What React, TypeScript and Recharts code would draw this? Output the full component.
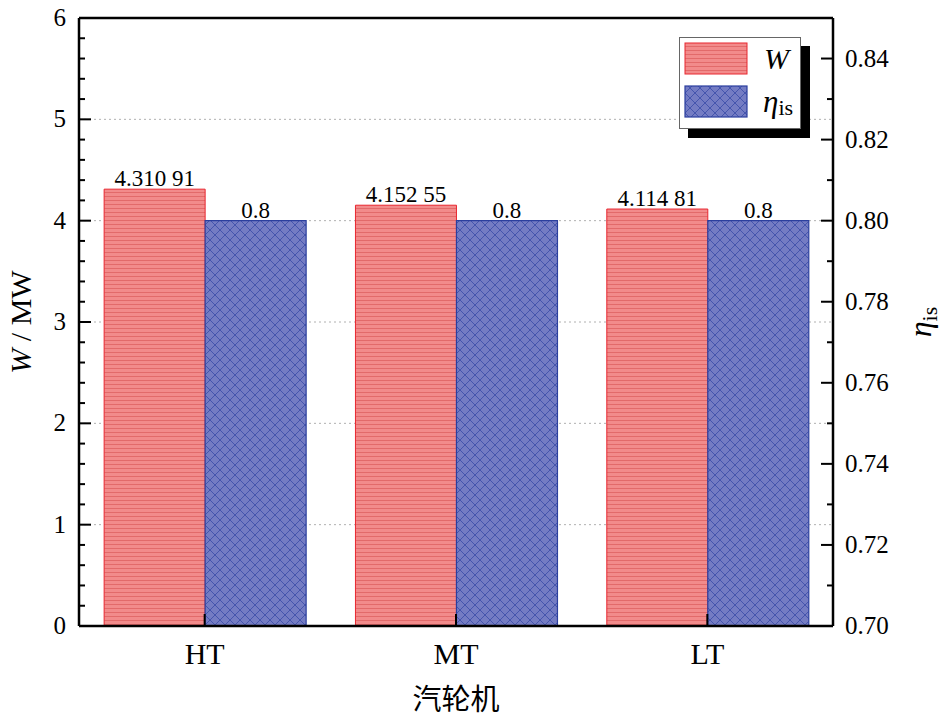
import {
  BarChart,
  Bar,
  XAxis,
  YAxis,
  CartesianGrid,
  ReferenceLine,
  LabelList,
  Label,
} from "recharts";

const categories = ["HT", "MT", "LT"];
const powerMW = [4.31091, 4.15255, 4.11481];
const efficiency = [0.8, 0.8, 0.8];

const leftMajorTicks = [0, 1, 2, 3, 4, 5, 6];
const rightMajorTicks = [0.7, 0.72, 0.74, 0.76, 0.78, 0.8, 0.82, 0.84];
const gridValues = [1, 2, 3, 4, 5];

// minor ticks: 4 per major step on the left, 1 per step on the right
const leftTicks = Array.from({ length: 31 }, (_, i) => i / 5);
const rightTicks = Array.from({ length: 16 }, (_, i) => (70 + i) / 100);

const data = categories.map((name, i) => ({
  name,
  W: powerMW[i],
  eta: efficiency[i],
}));

const SERIF = "Liberation Serif";
const RED = "#e8262f";
const BLUE = "#2b3f9e";

const formatW = (v: unknown) => {
  const s = Number(v).toFixed(5);
  return s.slice(0, -2) + " " + s.slice(-2);
};

const isMajor = (v: number, list: number[]) =>
  list.some((m) => Math.abs(m - v) < 1e-6);

function LeftTick({ x, y, payload }: any) {
  const v = payload.value as number;
  const major = isMajor(v, leftMajorTicks);
  return (
    <g>
      <line x1={x} x2={x + (major ? 12 : 6)} y1={y} y2={y} stroke="#000" strokeWidth={2} />
      {major && (
        <text x={x - 13} y={y + 8} textAnchor="end" fontSize={25} fontFamily={SERIF} fill="#000">
          {v}
        </text>
      )}
    </g>
  );
}

function RightTick({ x, y, payload }: any) {
  const v = payload.value as number;
  const major = isMajor(v, rightMajorTicks);
  return (
    <g>
      <line x1={x} x2={x - (major ? 12 : 6)} y1={y} y2={y} stroke="#000" strokeWidth={2} />
      {major && (
        <text x={x + 12} y={y + 8} textAnchor="start" fontSize={25} fontFamily={SERIF} fill="#000">
          {v.toFixed(2)}
        </text>
      )}
    </g>
  );
}

function BottomTick({ x, y, payload }: any) {
  return (
    <g>
      <line x1={x} x2={x} y1={y} y2={y - 12} stroke="#000" strokeWidth={2} />
      <text x={x} y={y + 38} textAnchor="middle" fontSize={30} fontFamily={SERIF} fill="#000">
        {payload.value}
      </text>
    </g>
  );
}

const leftLabel = ({ viewBox }: any) => {
  const cx = viewBox.x + 31;
  const cy = viewBox.y + viewBox.height / 2;
  return (
    <text
      x={cx}
      y={cy}
      transform={`rotate(-90 ${cx} ${cy})`}
      textAnchor="middle"
      fontSize={30}
      fontFamily={SERIF}
      fill="#000"
    >
      <tspan fontStyle="italic">W</tspan>
      <tspan> / MW</tspan>
    </text>
  );
};

const rightLabel = ({ viewBox }: any) => {
  const cx = viewBox.x + 98;
  const cy = viewBox.y + viewBox.height / 2;
  return (
    <text
      x={cx}
      y={cy}
      transform={`rotate(-90 ${cx} ${cy})`}
      textAnchor="middle"
      fontSize={32}
      fontFamily={SERIF}
      fill="#000"
    >
      <tspan fontStyle="italic">η</tspan>
      <tspan fontSize={22} dy={6}>is</tspan>
    </text>
  );
};

const bottomLabel = ({ viewBox }: any) => (
  <text
    x={viewBox.x + viewBox.width / 2}
    y={viewBox.y + 84}
    textAnchor="middle"
    fontSize={29}
    fontFamily="Noto Sans CJK SC"
    fill="#000"
  >
    汽轮机
  </text>
);

function Patterns() {
  return (
    <svg width={0} height={0} style={{ position: "absolute" }}>
      <defs>
        <pattern id="redHatch" width={4} height={4} patternUnits="userSpaceOnUse">
          <rect width={4} height={4} fill="#f28b8b" />
          <line x1={0} x2={4} y1={0.5} y2={0.5} stroke="#e26a6a" strokeWidth={1} />
        </pattern>
        <pattern id="blueHatch" width={10} height={10} patternUnits="userSpaceOnUse">
          <rect width={10} height={10} fill="#747cc3" />
          <path d="M0,0 L10,10 M10,0 L0,10" stroke="#3f50aa" strokeWidth={0.9} />
        </pattern>
      </defs>
    </svg>
  );
}

function LegendBox() {
  return (
    <div
      style={{
        position: "absolute",
        left: 679,
        top: 37,
        width: 122,
        height: 92,
        boxSizing: "border-box",
        border: "1px solid #666",
        background: "#fff",
        boxShadow: "9px 9px 0 #000",
      }}
    >
      <svg width={120} height={90} style={{ position: "absolute", left: 0, top: 0 }}>
        <rect x={5} y={5} width={62} height={31} fill="url(#redHatch)" stroke={RED} strokeWidth={1} />
        <rect x={5} y={48} width={62} height={31} fill="url(#blueHatch)" stroke={BLUE} strokeWidth={1.2} />
        <text x={84} y={31} fontSize={30} fontStyle="italic" fill="#000" fontFamily={SERIF}>
          W
        </text>
        <text x={83} y={74} fontSize={31} fill="#000" fontFamily={SERIF}>
          <tspan fontStyle="italic">η</tspan>
          <tspan fontSize={22} dy={3}>is</tspan>
        </text>
      </svg>
    </div>
  );
}

export default function App() {
  return (
    <div style={{ position: "absolute", left: 0, top: 0, width: 945, height: 723, background: "#fff" }}>
      <Patterns />
      <BarChart
        width={945}
        height={723}
        data={data}
        margin={{ top: 18, right: 0, bottom: 0, left: 0 }}
        barGap={0}
        barCategoryGap="10%"
      >
        <CartesianGrid
          yAxisId="left"
          vertical={false}
          horizontalValues={gridValues}
          stroke="#b0b0b0"
          strokeDasharray="2 3"
        />
        <XAxis
          dataKey="name"
          height={97}
          tickLine={false}
          tickSize={0}
          tickMargin={0}
          interval={0}
          axisLine={{ stroke: "#000", strokeWidth: 2.5 }}
          tick={(p: any) => <BottomTick {...p} />}
        >
          <Label content={bottomLabel} />
        </XAxis>
        <YAxis
          yAxisId="left"
          orientation="left"
          width={79}
          domain={[0, 6]}
          ticks={leftTicks}
          interval={0}
          tickLine={false}
          tickSize={0}
          tickMargin={0}
          axisLine={{ stroke: "#000", strokeWidth: 2.5 }}
          tick={(p: any) => <LeftTick {...p} />}
        >
          <Label content={leftLabel} />
        </YAxis>
        <YAxis
          yAxisId="right"
          orientation="right"
          width={112}
          domain={[0.7, 0.85]}
          ticks={rightTicks}
          interval={0}
          tickLine={false}
          tickSize={0}
          tickMargin={0}
          axisLine={{ stroke: "#000", strokeWidth: 2.5 }}
          tick={(p: any) => <RightTick {...p} />}
        >
          <Label content={rightLabel} />
        </YAxis>
        <ReferenceLine yAxisId="left" y={6} stroke="#000" strokeWidth={2.5} />
        <Bar
          yAxisId="left"
          dataKey="W"
          fill="url(#redHatch)"
          stroke={RED}
          strokeWidth={1}
          isAnimationActive={false}
        >
          <LabelList
            dataKey="W"
            position="top"
            offset={3}
            formatter={formatW}
            fill="#000"
            fontSize={23}
            fontFamily={SERIF}
          />
        </Bar>
        <Bar
          yAxisId="right"
          dataKey="eta"
          fill="url(#blueHatch)"
          stroke={BLUE}
          strokeWidth={1.2}
          isAnimationActive={false}
        >
          <LabelList
            dataKey="eta"
            position="top"
            offset={3}
            fill="#000"
            fontSize={23}
            fontFamily={SERIF}
          />
        </Bar>
      </BarChart>
      <LegendBox />
    </div>
  );
}
